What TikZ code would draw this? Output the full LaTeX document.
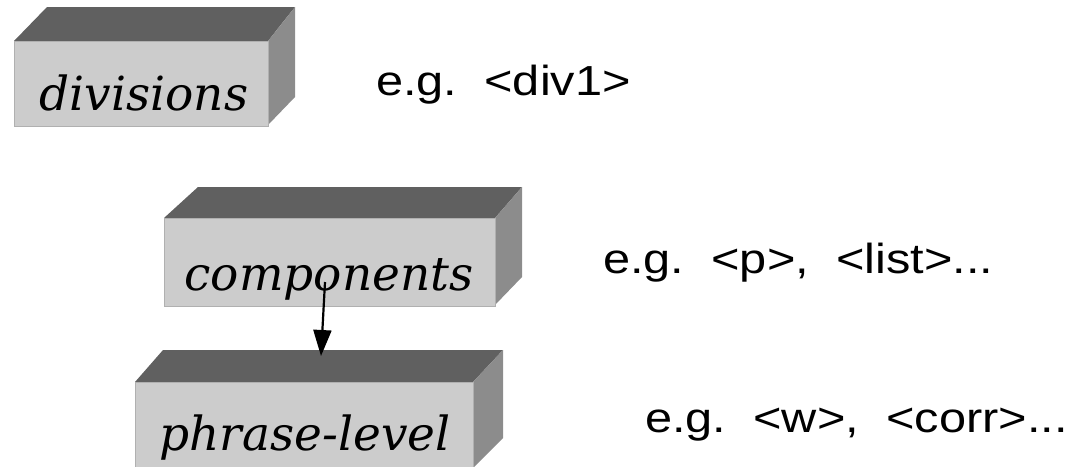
\documentclass[tikz,border=0pt]{standalone}
\usepackage{fontspec}
\usetikzlibrary{arrows.meta}
\newfontfamily\boxfont{DejaVu Serif}[ItalicFont={DejaVu Serif Italic}]
\newfontfamily\egfont[FakeStretch=1.16]{Liberation Sans}
\definecolor{topgray}{RGB}{96,96,96}
\definecolor{sidegray}{RGB}{140,140,140}
\definecolor{frontgray}{RGB}{204,204,204}
\definecolor{edgegray}{RGB}{176,176,176}
\tikzset{
  front/.style={fill=frontgray, draw=edgegray, line width=1.2pt, inner sep=0pt, anchor=north west},
  topface/.style={fill=topgray},
  sideface/.style={fill=sidegray},
  boxlabel/.style={font=\boxfont\itshape\fontsize{47}{52}\selectfont, anchor=base, inner sep=0pt},
  example/.style={font=\egfont\fontsize{42}{46}\selectfont, anchor=base west, inner sep=0pt},
  link/.style={line width=2.2pt, -{Triangle[width=18pt,length=26pt]}}
}
\begin{document}
\begin{tikzpicture}[x=1pt,y=-1pt]
\useasboundingbox (0,0) rectangle (1079,466);

% divisions block
\fill[topface] (14,41) -- (47,7) -- (295,7) -- (268,41) -- cycle;
\fill[sideface] (268,41) -- (295,7) -- (295,97) -- (268,125) -- cycle;
\node[front, minimum width=254pt, minimum height=85pt] (divbox) at (14,41) {};
\node[boxlabel] (divlabel) at (144,110) {divisions};

% components block
\fill[topface] (164,218) -- (198,187) -- (522,187) -- (495,218) -- cycle;
\fill[sideface] (495,218) -- (522,187) -- (522,277) -- (495,305) -- cycle;
\node[front, minimum width=331pt, minimum height=88pt] (compbox) at (164,218) {};
\node[boxlabel] (complabel) at (329,290) {components};

% phrase-level block
\fill[topface] (135,382) -- (163,350) -- (503,350) -- (473,382) -- cycle;
\fill[sideface] (473,382) -- (503,350) -- (503,438) -- (473,468) -- cycle;
\node[front, minimum width=338pt, minimum height=90pt] (phrbox) at (135,382) {};
\node[boxlabel] (phrlabel) at (305,450) {phrase-level};

% connector from components down onto phrase-level
\coordinate (linkstart) at (325,282);
\coordinate (linkend) at (321,356);
\draw[link] (linkstart) -- (linkend);

% examples
\node[example] (egdiv) at (376,95) {e.g.\ \ <div1>};
\node[example] (egcomp) at (603,273) {e.g.\ \ <p>,\ \ <list>...};
\node[example] (egphr) at (645,432) {e.g.\ \ <w>,\ \ <corr>...};
\end{tikzpicture}
\end{document}
